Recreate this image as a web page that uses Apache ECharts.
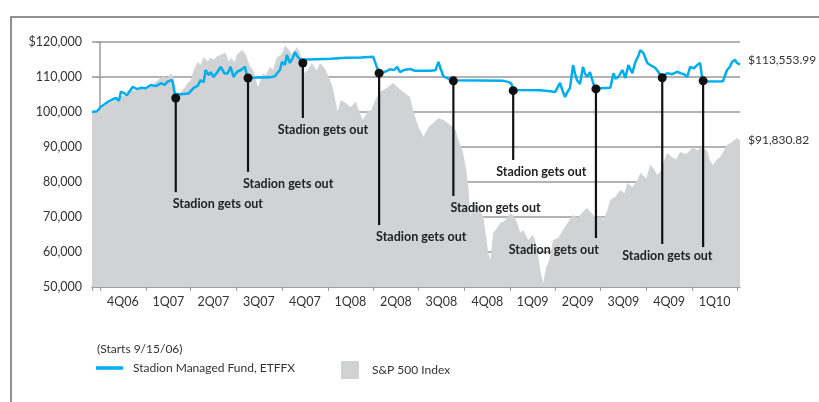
<!DOCTYPE html>
<html><head><meta charset="utf-8">
<script src="https://cdn.jsdelivr.net/npm/echarts@6/dist/echarts.min.js"></script>
<style>html,body{margin:0;padding:0;background:#fff}#c{width:819px;height:402px}</style>
</head><body><div id="c"></div>
<script>
// ---------- DATA ----------
var quarterStarts = ['2006-10-01','2007-01-01','2007-04-01','2007-07-01','2007-10-01','2008-01-01','2008-04-01','2008-07-01','2008-10-01','2009-01-01','2009-04-01','2009-07-01','2009-10-01','2010-01-01','2010-04-01'];
var quarterLabels = ['4Q06','1Q07','2Q07','3Q07','4Q07','1Q08','2Q08','3Q08','4Q08','1Q09','2Q09','3Q09','4Q09','1Q10'];
var yTicks = [50000,60000,70000,80000,90000,100000,110000,120000];

var spPoints = [
['2006-09-15',100000],['2006-10-03',100800],['2006-10-11',101800],['2006-10-19',102600],['2006-10-27',103000],['2006-11-04',103600],['2006-11-12',104400],['2006-11-20',104800],
['2006-11-28',105200],['2006-12-06',106300],['2006-12-14',106000],['2006-12-22',106400],['2007-01-01',106600],['2007-01-11',107300],['2007-01-21',108600],['2007-01-29',109600],
['2007-02-06',110200],['2007-02-12',109500],['2007-02-20',111000],['2007-02-26',109800],['2007-03-02',105200],['2007-03-08',104500],['2007-03-14',106000],['2007-03-20',106900],
['2007-03-26',108300],['2007-04-01',109000],['2007-04-07',112000],['2007-04-15',114300],['2007-04-21',113500],['2007-04-27',115700],['2007-05-05',114500],['2007-05-11',115500],
['2007-05-17',114900],['2007-05-25',116000],['2007-05-31',116300],['2007-06-10',116900],['2007-06-16',114500],['2007-06-22',115400],['2007-06-28',114200],['2007-07-03',116500],
['2007-07-13',117700],['2007-07-19',116800],['2007-07-23',115400],['2007-07-29',113000],['2007-08-04',112000],['2007-08-10',109000],['2007-08-14',107100],['2007-08-20',109500],
['2007-08-24',111100],['2007-08-30',110500],['2007-09-07',112900],['2007-09-13',112000],['2007-09-21',115700],['2007-09-27',116000],['2007-10-03',117200],['2007-10-07',119000],
['2007-10-15',117800],['2007-10-21',116500],['2007-10-31',118600],['2007-11-06',117000],['2007-11-10',114500],['2007-11-16',111100],['2007-11-22',112000],['2007-11-30',114000],
['2007-12-10',111800],['2007-12-16',114000],['2007-12-26',112500],['2008-01-03',110000],['2008-01-11',106900],['2008-01-21',100000],['2008-01-27',103400],['2008-02-06',102600],
['2008-02-16',101400],['2008-02-26',102900],['2008-03-03',100600],['2008-03-11',97700],['2008-03-17',99000],['2008-03-21',100600],['2008-03-27',100000],['2008-04-05',103400],
['2008-04-15',105700],['2008-04-29',106900],['2008-05-11',108300],['2008-05-15',108000],['2008-05-21',106900],['2008-05-31',105700],['2008-06-14',104300],['2008-06-20',100600],
['2008-07-01',95700],['2008-07-11',92900],['2008-07-21',95700],['2008-07-31',96900],['2008-08-10',98300],['2008-08-20',97700],['2008-09-03',96300],['2008-09-13',94900],
['2008-09-19',92000],['2008-09-27',89100],['2008-10-01',86500],['2008-10-05',83000],['2008-10-09',78600],['2008-10-13',70000],['2008-10-19',74000],['2008-10-29',72900],
['2008-11-08',70000],['2008-11-14',64000],['2008-11-18',59700],['2008-11-22',57700],['2008-11-28',65400],['2008-12-06',67000],['2008-12-12',68300],['2008-12-22',69000],
['2009-01-01',71100],['2009-01-07',70500],['2009-01-15',68300],['2009-01-21',65500],['2009-01-27',66300],['2009-02-06',63400],['2009-02-16',64900],['2009-02-24',61400],
['2009-03-02',55000],['2009-03-08',51100],['2009-03-14',55500],['2009-03-20',57500],['2009-03-28',63400],['2009-04-07',64000],['2009-04-17',66300],['2009-04-27',68500],
['2009-05-07',70600],['2009-05-17',69800],['2009-05-27',71500],['2009-06-04',72600],['2009-06-14',71000],['2009-06-24',69500],['2009-07-01',70200],['2009-07-07',69200],
['2009-07-15',72000],['2009-07-21',74900],['2009-07-31',75800],['2009-08-10',77700],['2009-08-18',76800],['2009-08-24',79700],['2009-09-03',78500],['2009-09-13',80500],
['2009-09-19',82600],['2009-10-01',81000],['2009-10-09',84900],['2009-10-17',83500],['2009-10-23',82000],['2009-10-29',83000],['2009-11-04',85400],['2009-11-12',88300],
['2009-11-22',87000],['2009-11-30',86500],['2009-12-08',88600],['2009-12-20',88000],['2010-01-03',90000],['2010-01-11',89000],['2010-01-19',90000],['2010-01-31',89000],
['2010-02-06',86000],['2010-02-12',84900],['2010-02-20',86500],['2010-02-26',87100],['2010-03-06',89000],['2010-03-12',90600],['2010-03-22',91400],['2010-04-01',92600],
['2010-04-07',91830.82]
];

var fundPoints = [
['2006-09-15',100000],['2006-09-25',100200],['2006-10-03',101500],['2006-10-11',102300],['2006-10-17',102900],['2006-10-25',103500],['2006-11-02',104000],['2006-11-08',103200],
['2006-11-12',105800],['2006-11-18',105400],['2006-11-24',104800],['2006-11-30',106000],['2006-12-06',107200],['2006-12-14',106500],['2006-12-22',106900],['2007-01-01',106800],
['2007-01-11',107700],['2007-01-21',107400],['2007-01-31',108200],['2007-02-08',107800],['2007-02-14',108700],['2007-02-22',109100],['2007-02-24',108500],['2007-02-28',105200],
['2007-03-12',105100],['2007-03-28',105300],['2007-04-07',106900],['2007-04-15',107500],['2007-04-21',109100],['2007-04-27',108500],['2007-05-01',112000],['2007-05-07',110500],
['2007-05-11',111400],['2007-05-17',110000],['2007-05-25',111500],['2007-05-31',112900],['2007-06-08',111000],['2007-06-14',111000],['2007-06-20',112900],['2007-06-26',110000],
['2007-07-03',111500],['2007-07-11',112000],['2007-07-19',112900],['2007-07-23',110000],['2007-07-29',109800],['2007-09-07',109900],['2007-09-17',110200],['2007-09-21',111000],
['2007-09-27',112000],['2007-10-01',114300],['2007-10-07',113500],['2007-10-11',116300],['2007-10-17',114000],['2007-10-23',115500],['2007-10-27',117100],['2007-11-02',115700],
['2007-11-08',114900],['2007-11-12',115000],['2008-01-07',115200],['2008-02-06',115500],['2008-03-07',115600],['2008-04-01',115800],['2008-04-05',115500],['2008-04-09',112600],
['2008-04-15',111200],['2008-04-25',111500],['2008-05-05',112200],['2008-05-13',112000],['2008-05-19',112900],['2008-05-25',111400],['2008-06-02',112000],['2008-06-14',112300],
['2008-06-24',111800],['2008-07-25',111800],['2008-08-04',111900],['2008-08-10',114300],['2008-08-14',112500],['2008-08-20',110200],['2008-08-30',109500],['2008-09-07',109100],
['2008-11-01',109000],['2008-12-18',108900],['2008-12-28',108600],['2009-01-03',108200],['2009-01-07',106300],['2009-03-02',106200],['2009-03-22',105900],['2009-04-01',105700],
['2009-04-05',105500],['2009-04-11',108300],['2009-04-15',106500],['2009-04-21',104300],['2009-04-25',105500],['2009-05-01',106900],['2009-05-07',113400],['2009-05-11',111000],
['2009-05-15',109100],['2009-05-21',108000],['2009-05-25',107700],['2009-05-27',112900],['2009-05-31',111000],['2009-06-04',110000],['2009-06-10',111400],['2009-06-16',108500],
['2009-06-20',106900],['2009-07-01',106800],['2009-07-21',106900],['2009-07-27',111100],['2009-07-31',109500],['2009-08-06',110000],['2009-08-14',112000],['2009-08-20',109700],
['2009-08-26',113400],['2009-09-03',111100],['2009-09-09',114300],['2009-09-15',116000],['2009-09-19',117700],['2009-09-25',116900],['2009-09-29',117000],['2009-10-03',114000],
['2009-10-09',113400],['2009-10-19',112600],['2009-10-25',111500],['2009-10-29',110600],['2009-11-02',110000],['2009-11-12',111100],['2009-11-22',110800],['2009-12-02',111500],
['2009-12-08',111100],['2009-12-16',110800],['2009-12-22',110000],['2009-12-28',112900],['2010-01-05',112500],['2010-01-11',113400],['2010-01-17',114000],['2010-01-19',113500],
['2010-01-21',109700],['2010-01-27',108700],['2010-03-04',108800],['2010-03-08',110500],['2010-03-12',112000],['2010-03-18',113000],['2010-03-22',114300],['2010-03-28',114900],
['2010-04-01',114000],['2010-04-07',113553.99]
];

var exitDates  = ['2007-03-02','2007-07-25','2007-11-12','2008-04-13','2008-09-09','2009-01-07','2009-06-22','2009-11-02','2010-01-23'];
var exitValues = [104000,109700,114000,111100,108900,106100,106600,109800,108900];
var noteText = 'Stadion gets out';

// ---------- LAYOUT (annotation leader lengths / label offsets) ----------
var leaderEnds = [77100,82900,98300,67700,76000,86300,64000,62300,61400];
var labelDx    = [-3,-5,-25,-3,-3,-17,3,-40,null];
var labelAlign = ['left','left','left','left','left','left','right','left',null];

// ---------- HELPERS ----------
var BASE = Date.UTC(2006,9,1);
function dayOf(s){var p=s.split('-');return (Date.UTC(+p[0],+p[1]-1,+p[2])-BASE)/86400000;}
function fmt(v){var parts=v.toFixed(v%1?2:0).split('.');parts[0]=parts[0].replace(/\B(?=(\d{3})+(?!\d))/g,',');return parts.join('.');}

var qDays = quarterStarts.map(dayOf);
var qMid = [], qMidLabel = {};
for (var i=0;i<quarterLabels.length;i++){var m=(qDays[i]+qDays[i+1])/2;qMid.push(m);qMidLabel[m]=quarterLabels[i];}
var xMin = dayOf('2006-09-15');
var xMax = dayOf('2010-04-07');

var spData = spPoints.map(function(p){return [dayOf(p[0]),p[1]];});
var fundData = fundPoints.map(function(p){return [dayOf(p[0]),p[1]];});
var noteData = exitDates.map(function(d,i){return [dayOf(d),exitValues[i],leaderEnds[i]];});

var FONT = 'Lato';
var chart = echarts.init(document.getElementById('c'));
chart.setOption({
  animation:false,
  backgroundColor:'#fff',
  textStyle:{fontFamily:FONT},
  grid:{left:92,right:79,top:42,bottom:115,containLabel:false},
  xAxis:{type:'value',min:xMin,max:xMax,
    axisLine:{show:true,lineStyle:{color:'#9a9a9a',width:1.5}},
    axisTick:{show:true,length:4,lineStyle:{color:'#9a9a9a',width:1},customValues:[xMin].concat(qDays)},
    axisLabel:{customValues:qMid,formatter:function(v){return qMidLabel[v]||'';},color:'#333',fontSize:12.5,margin:8,fontFamily:FONT},
    splitLine:{show:false}},
  yAxis:{type:'value',min:50000,max:120000,interval:10000,
    axisLine:{show:true,lineStyle:{color:'#9a9a9a',width:1.5}},
    axisTick:{show:true,length:4,lineStyle:{color:'#9a9a9a'}},
    axisLabel:{color:'#333',fontSize:12.5,margin:10,fontFamily:FONT,
      formatter:function(v){return (v===120000?'$':'')+fmt(v);}},
    splitLine:{show:true,lineStyle:{color:'#9a9a9a',width:1.5}}},
  legend:[
    {data:['Stadion Managed Fund, ETFFX'],left:96,top:362,padding:0,icon:'rect',itemWidth:27,itemHeight:3.5,
      textStyle:{color:'#333',fontSize:12,fontFamily:FONT,padding:[0,0,0,5]}},
    {data:['S&P 500 Index'],left:341,top:361,padding:0,icon:'rect',itemWidth:18,itemHeight:18,
      textStyle:{color:'#333',fontSize:12,fontFamily:FONT,padding:[0,0,0,8]}}
  ],
  graphic:[
    {type:'polyline',shape:{points:[[11,402],[11,17],[819,17]]},style:{stroke:'#6d6d6d',lineWidth:1.5,fill:null},silent:true},
    {type:'text',left:97,top:343,style:{text:'(Starts 9/15/06)',font:'12px '+FONT,fill:'#333'}}
  ],
  series:[
    {name:'S&P 500 Index',type:'line',data:spData,showSymbol:false,symbol:'none',
      lineStyle:{width:0,color:'#d1d2d4'},itemStyle:{color:'#d1d2d4'},
      areaStyle:{color:'#d1d2d4',opacity:1,origin:'start'},z:2,
      endLabel:{show:true,distance:8,color:'#333',fontSize:12,fontFamily:FONT,
        formatter:function(p){return '$'+fmt(p.value[1]);}}},
    {name:'Stadion Managed Fund, ETFFX',type:'line',data:fundData,showSymbol:false,symbol:'none',
      lineStyle:{width:2.5,color:'#00aeef'},itemStyle:{color:'#00aeef'},z:3,
      endLabel:{show:true,distance:8,offset:[0,-4],color:'#333',fontSize:12,fontFamily:FONT,
        formatter:function(p){return '$'+fmt(p.value[1]);}}},
    {name:'exits',type:'custom',data:noteData,z:5,clip:false,encode:{x:0,y:[1,2]},
      renderItem:function(params,api){
        var i=params.dataIndex;
        var top=api.coord([api.value(0),api.value(1)]);
        var bot=api.coord([api.value(0),api.value(2)]);
        var ch=[
          {type:'line',shape:{x1:top[0],y1:top[1],x2:bot[0],y2:bot[1]},style:{stroke:'#111',lineWidth:2.2}},
          {type:'circle',shape:{cx:top[0],cy:top[1],r:4.5},style:{fill:'#111'}}
        ];
        if(labelDx[i]!==null){
          ch.push({type:'text',x:bot[0]+labelDx[i],y:bot[1]+12,
            style:{text:noteText,font:'bold 12.5px '+FONT,fill:'#222',align:labelAlign[i],verticalAlign:'middle'}});
        }
        return {type:'group',children:ch};
      }}
  ]
});
</script></body></html>
